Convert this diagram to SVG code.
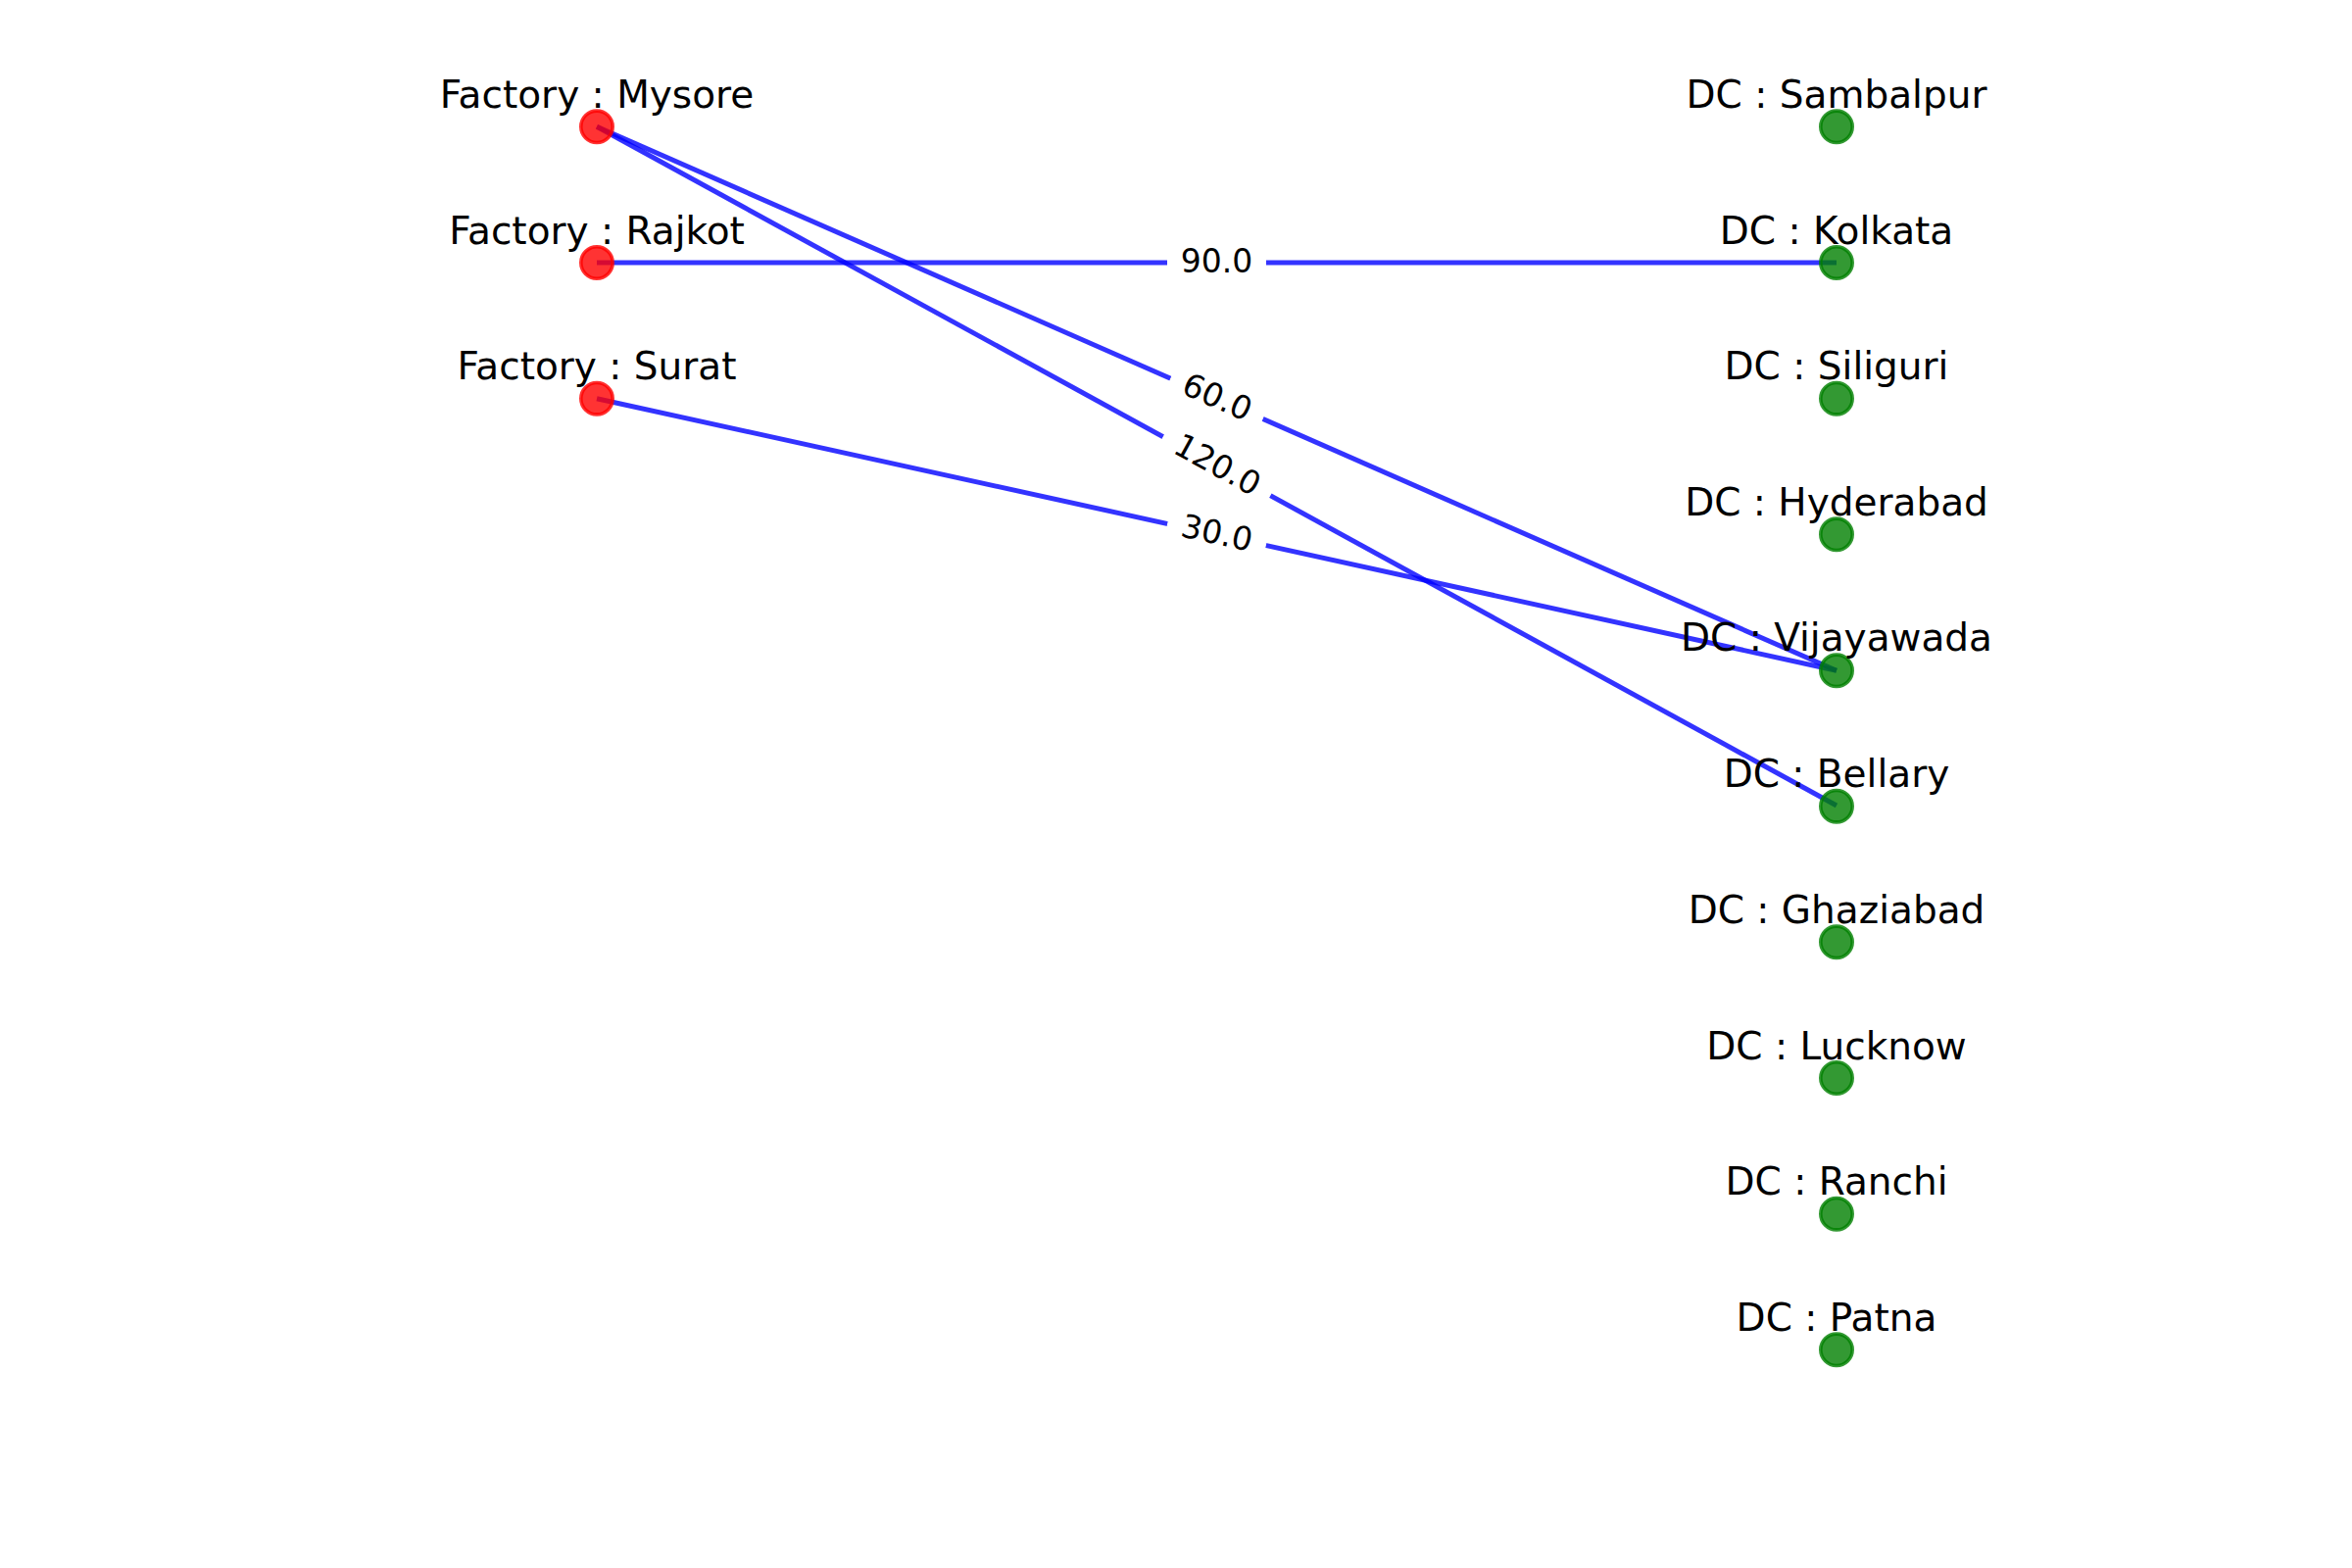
<svg xmlns="http://www.w3.org/2000/svg" width="2400" height="1600" viewBox="0 0 2400 1600">
<style>
text{font-family:"DejaVu Sans","Liberation Sans",sans-serif;fill:#000}
.nl{font-size:39px;text-anchor:middle}
.el{font-size:33px;text-anchor:middle}
.e{stroke:#0000ff;stroke-opacity:0.8;stroke-width:5;fill:none}
.f{fill:#ff0000;fill-opacity:0.8;stroke:#ff0000;stroke-opacity:0.8;stroke-width:3.6}
.d{fill:#008000;fill-opacity:0.8;stroke:#008000;stroke-opacity:0.8;stroke-width:3.6}
.bx{fill:#fff;stroke:#fff}
</style>
<rect width="2400" height="1600" fill="#fff"/>
<g id="connectors">
<line class="e" x1="609" y1="129.3" x2="1874" y2="684.3"/>
<line class="e" x1="609" y1="129.3" x2="1874" y2="822"/>
<line class="e" x1="609" y1="268" x2="1874" y2="268"/>
<line class="e" x1="609" y1="406.7" x2="1874" y2="684.3"/>
<g transform="translate(1241.5,268)"><rect class="bx" x="-50" y="-24" width="100" height="48" rx="8"/><text class="el" x="0" y="9.5">90.0</text></g>
<g transform="translate(1241.5,406.8) rotate(23.7)"><rect class="bx" x="-51" y="-24" width="102" height="48" rx="8"/><text class="el" x="0" y="9.5">60.0</text></g>
<g transform="translate(1241.5,475.7) rotate(28.7)"><rect class="bx" x="-62" y="-24" width="124" height="48" rx="8"/><text class="el" x="0" y="9.5">120.0</text></g>
<g transform="translate(1241.5,545.5) rotate(12.4)"><rect class="bx" x="-51" y="-24" width="102" height="48" rx="8"/><text class="el" x="0" y="9.5">30.0</text></g>
</g>
<g id="factory-mysore"><circle class="f" cx="609" cy="129.3" r="16.2"/><text class="nl" x="609" y="109.8">Factory : Mysore</text></g>
<g id="factory-rajkot"><circle class="f" cx="609" cy="268" r="16.2"/><text class="nl" x="609" y="248.5">Factory : Rajkot</text></g>
<g id="factory-surat"><circle class="f" cx="609" cy="406.7" r="16.2"/><text class="nl" x="609" y="387.2">Factory : Surat</text></g>
<g id="dc-sambalpur"><circle class="d" cx="1874" cy="129.3" r="16.2"/><text class="nl" x="1874" y="109.8">DC : Sambalpur</text></g>
<g id="dc-kolkata"><circle class="d" cx="1874" cy="268" r="16.2"/><text class="nl" x="1874" y="248.5">DC : Kolkata</text></g>
<g id="dc-siliguri"><circle class="d" cx="1874" cy="406.7" r="16.2"/><text class="nl" x="1874" y="387.2">DC : Siliguri</text></g>
<g id="dc-hyderabad"><circle class="d" cx="1874" cy="545.3" r="16.2"/><text class="nl" x="1874" y="525.8">DC : Hyderabad</text></g>
<g id="dc-vijayawada"><circle class="d" cx="1874" cy="684.3" r="16.2"/><text class="nl" x="1874" y="664.3">DC : Vijayawada</text></g>
<g id="dc-bellary"><circle class="d" cx="1874" cy="822.7" r="16.2"/><text class="nl" x="1874" y="803">DC : Bellary</text></g>
<g id="dc-ghaziabad"><circle class="d" cx="1874" cy="961.3" r="16.2"/><text class="nl" x="1874" y="941.8">DC : Ghaziabad</text></g>
<g id="dc-lucknow"><circle class="d" cx="1874" cy="1100" r="16.2"/><text class="nl" x="1874" y="1080.5">DC : Lucknow</text></g>
<g id="dc-ranchi"><circle class="d" cx="1874" cy="1238.7" r="16.2"/><text class="nl" x="1874" y="1219.2">DC : Ranchi</text></g>
<g id="dc-patna"><circle class="d" cx="1874" cy="1377.3" r="16.2"/><text class="nl" x="1874" y="1357.8">DC : Patna</text></g>
</svg>
